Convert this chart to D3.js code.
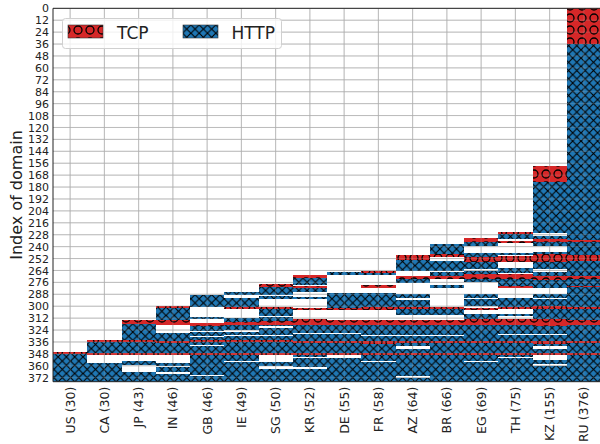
<!DOCTYPE html>
<html>
<head>
<meta charset="utf-8" />
<script src="https://d3js.org/d3.v7.min.js"></script>
<style>
  body { margin: 0; background: #fff; }
  text { font-family: "DejaVu Sans", sans-serif; fill: #222; }
</style>
</head>
<body>
<div id="chart"></div>
<script>
// countries and their counts (x tick labels)
const countries = ["US", "CA", "JP", "IN", "GB", "IE", "SG", "KR", "DE", "FR", "AZ", "BR", "EG", "TH", "KZ", "RU"];
const counts = [30, 30, 43, 46, 46, 49, 50, 52, 55, 58, 64, 66, 69, 75, 155, 376];
const yTicks = d3.range(0, 373, 12);

// domain index ranges [from, to) blocked by TCP, one list per country
const tcpBlocks = [
  [[346, 348]],
  [[334, 336], [347, 349]],
  [[314, 318], [334, 336], [347, 349]],
  [[300, 302], [314, 319], [335, 337], [347, 349]],
  [[317, 320], [334, 336], [347, 349]],
  [[301, 303], [316, 319], [334, 336], [347, 349]],
  [[278, 281], [301, 303], [315, 319], [334, 336], [347, 349]],
  [[269, 272], [280, 282], [302, 304], [313, 319], [335, 337], [347, 349]],
  [[302, 304], [314, 319], [335, 337], [347, 349]],
  [[265, 267], [279, 282], [301, 304], [314, 319], [335, 338], [347, 349]],
  [[248, 253], [270, 273], [301, 303], [314, 319], [335, 337], [347, 349]],
  [[247, 250], [270, 273], [301, 303], [314, 319], [335, 337], [347, 349]],
  [[231, 235], [250, 255], [268, 273], [302, 304], [313, 319], [335, 337], [347, 349]],
  [[225, 227], [234, 236], [249, 255], [268, 273], [280, 282], [301, 303], [313, 319], [335, 337], [347, 349]],
  [[159, 175], [232, 235], [247, 255], [270, 274], [300, 303], [313, 320], [335, 338], [347, 349]],
  [[0, 36], [233, 235], [248, 254], [270, 273], [280, 281], [301, 303], [314, 319], [335, 337], [347, 349]]
];

// domain index ranges [from, to) blocked by HTTP, one list per country
const httpBlocks = [
  [[348, 376]],
  [[336, 347], [357, 376]],
  [[318, 334], [336, 347], [355, 359], [366, 376]],
  [[302, 314], [327, 335], [337, 347], [357, 360], [361, 366], [368, 376]],
  [[289, 301], [311, 313], [320, 325], [326, 330], [331, 334], [336, 339], [340, 347], [349, 369], [370, 376]],
  [[286, 289], [292, 301], [312, 316], [319, 324], [326, 329], [330, 334], [336, 347], [349, 355], [356, 376]],
  [[281, 289], [290, 293], [303, 310], [311, 315], [319, 320], [322, 329], [330, 334], [336, 347], [356, 360], [363, 376]],
  [[272, 279], [282, 286], [291, 293], [319, 327], [328, 335], [337, 347], [349, 351], [352, 361], [363, 376]],
  [[266, 269], [287, 302], [319, 327], [328, 335], [337, 347], [352, 376]],
  [[267, 269], [287, 301], [319, 329], [330, 335], [338, 347], [349, 355], [356, 376]],
  [[253, 265], [273, 277], [288, 292], [294, 301], [303, 309], [319, 329], [330, 335], [337, 340], [343, 347], [349, 370], [372, 376]],
  [[237, 247], [254, 265], [266, 270], [279, 282], [303, 309], [319, 329], [330, 335], [337, 347], [349, 376]],
  [[235, 239], [246, 250], [255, 263], [265, 268], [273, 276], [288, 292], [293, 300], [308, 313], [319, 335], [337, 347], [349, 355], [356, 376]],
  [[227, 232], [246, 248], [262, 267], [273, 280], [292, 301], [308, 310], [319, 328], [329, 335], [337, 347], [349, 351], [352, 376]],
  [[175, 226], [229, 232], [235, 239], [245, 247], [255, 263], [266, 270], [274, 282], [288, 292], [293, 300], [303, 313], [320, 328], [329, 335], [338, 340], [343, 347], [354, 358], [360, 376]],
  [[36, 233], [235, 248], [254, 270], [273, 280], [281, 301], [303, 314], [319, 335], [337, 347], [349, 376]]
];

const W = 600, H = 444;
const plot = { left: 53, right: 601, top: 8.3, bottom: 381.7 };

const svg = d3.select("#chart").append("svg")
  .attr("width", W)
  .attr("height", H);

const defs = svg.append("defs");

// hatch patterns, like matplotlib "xx" and "o"
const http = defs.append("pattern")
  .attr("id", "hatch-http")
  .attr("patternUnits", "userSpaceOnUse")
  .attr("width", 8.3).attr("height", 8.3);
http.append("rect").attr("width", 8.3).attr("height", 8.3).attr("fill", "#1f77b4");
http.append("path")
  .attr("d", "M-1,-1L9.3,9.3M9.3,-1L-1,9.3")
  .attr("stroke", "#000").attr("stroke-width", 1.1);

const tcp = defs.append("pattern")
  .attr("id", "hatch-tcp")
  .attr("patternUnits", "userSpaceOnUse")
  .attr("width", 12).attr("height", 12);
tcp.append("rect").attr("width", 12).attr("height", 12).attr("fill", "#d62728");
tcp.append("circle")
  .attr("cx", 6).attr("cy", 6).attr("r", 4)
  .attr("fill", "none").attr("stroke", "#000").attr("stroke-width", 1.3);

defs.append("clipPath").attr("id", "plot-clip")
  .append("rect")
  .attr("x", plot.left).attr("y", plot.top)
  .attr("width", plot.right - plot.left)
  .attr("height", plot.bottom - plot.top);

const x = d3.scaleBand().domain(countries).range([plot.left, plot.right]);
const y = d3.scaleLinear().domain([0, 376]).range([plot.top, plot.bottom]);

function drawGrid(opacity) {
  const grid = svg.append("g").attr("clip-path", "url(#plot-clip)")
    .attr("stroke", "#b0b0b0").attr("stroke-opacity", opacity).attr("stroke-width", 1);
  grid.selectAll("line.h")
    .data(yTicks)
    .join("line")
    .attr("class", "h")
    .attr("x1", plot.left).attr("x2", plot.right)
    .attr("y1", (d) => y(d)).attr("y2", (d) => y(d));
  grid.selectAll("line.v")
    .data(countries)
    .join("line")
    .attr("class", "v")
    .attr("x1", (d) => x(d) + x.bandwidth() / 2)
    .attr("x2", (d) => x(d) + x.bandwidth() / 2)
    .attr("y1", plot.top).attr("y2", plot.bottom);
}

drawGrid(0.8);

const bars = svg.append("g").attr("clip-path", "url(#plot-clip)");

function drawBlocks(blocks, fill) {
  countries.forEach((c, i) => {
    bars.append("g")
      .selectAll("rect")
      .data(blocks[i])
      .join("rect")
      .attr("x", x(c))
      .attr("width", x.bandwidth())
      .attr("y", (d) => y(d[0]))
      .attr("height", (d) => y(d[1]) - y(d[0]))
      .attr("fill", fill)
      .attr("shape-rendering", "crispEdges");
  });
}
drawBlocks(httpBlocks, "url(#hatch-http)");
drawBlocks(tcpBlocks, "url(#hatch-tcp)");

// faint grid showing through the bars
drawGrid(0.25);

// axes
const yAxis = svg.append("g")
  .attr("transform", `translate(${plot.left},0)`)
  .call(d3.axisLeft(y).tickValues(yTicks).tickSize(0).tickPadding(4));
yAxis.select(".domain").remove();
yAxis.selectAll("text").style("font-size", "11px").attr("fill", "#222");

const xAxis = svg.append("g")
  .attr("transform", `translate(0,${plot.bottom})`)
  .call(d3.axisBottom(x).tickSize(0).tickFormat((d, i) => `${d} (${counts[i]})`));
xAxis.select(".domain").remove();
xAxis.selectAll("text")
  .style("font-size", "12.5px")
  .attr("fill", "#222")
  .attr("transform", "rotate(-90)")
  .attr("text-anchor", "end")
  .attr("x", -5)
  .attr("y", 0)
  .attr("dy", "0.35em");

// frame
svg.append("path")
  .attr("d", `M${plot.right},${plot.top}H${plot.left}V${plot.bottom}H${plot.right}`)
  .attr("fill", "none").attr("stroke", "#222").attr("stroke-width", 1);

svg.append("text")
  .attr("transform", `translate(16,${(plot.top + plot.bottom) / 2}) rotate(-90)`)
  .attr("text-anchor", "middle")
  .attr("dominant-baseline", "central")
  .style("font-size", "16px")
  .text("Index of domain");

// legend
const legend = svg.append("g");
legend.append("rect")
  .attr("x", 62.5).attr("y", 18.5).attr("width", 219).attr("height", 30)
  .attr("rx", 3)
  .attr("fill", "#fff").attr("fill-opacity", 0.8)
  .attr("stroke", "#d0d0d0");
const legendItems = [
  { label: "TCP", fill: "url(#hatch-tcp)", px: 68, tx: 117 },
  { label: "HTTP", fill: "url(#hatch-http)", px: 183, tx: 231.5 }
];
legend.selectAll("rect.patch")
  .data(legendItems)
  .join("rect")
  .attr("class", "patch")
  .attr("x", (d) => d.px).attr("y", 25)
  .attr("width", 35).attr("height", 13)
  .attr("fill", (d) => d.fill)
  .attr("stroke", "#333").attr("stroke-width", 0.6);
legend.selectAll("text")
  .data(legendItems)
  .join("text")
  .attr("x", (d) => d.tx).attr("y", 38.5)
  .style("font-size", "17px")
  .text((d) => d.label);
</script>
</body>
</html>
